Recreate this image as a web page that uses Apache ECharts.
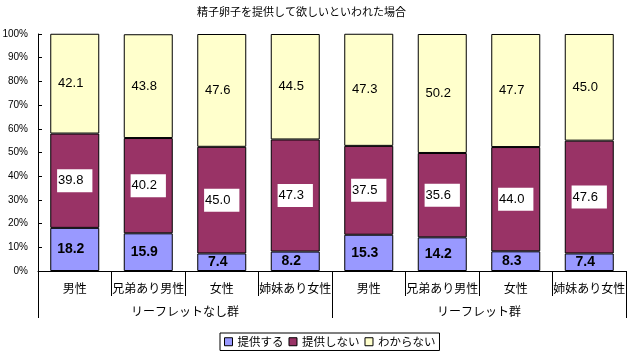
<!DOCTYPE html>
<html>
<head>
<meta charset="utf-8">
<script src="https://cdn.jsdelivr.net/npm/echarts@6/dist/echarts.min.js"></script>
<style>html,body{margin:0;padding:0;background:#fff}#c{width:629px;height:354px}</style>
</head>
<body>
<div id="c"></div>
<script>
const titleText = '精子卵子を提供して欲しいといわれた場合';
const categories = ['男性', '兄弟あり男性', '女性', '姉妹あり女性', '男性', '兄弟あり男性', '女性', '姉妹あり女性'];
const groups = ['リーフレットなし群', 'リーフレット群'];
const seriesNames = ['提供する', '提供しない', 'わからない'];
const provide = [18.2, 15.9, 7.4, 8.2, 15.3, 14.2, 8.3, 7.4];
const notProvide = [39.8, 40.2, 45.0, 47.3, 37.5, 35.6, 44.0, 47.6];
const unknown = [42.1, 43.8, 47.6, 44.5, 47.3, 50.2, 47.7, 45.0];
const yTicks = [0, 10, 20, 30, 40, 50, 60, 70, 80, 90, 100];

const JP = "'Noto Sans CJK JP', sans-serif";
const NUM = "'Liberation Sans', Arial, sans-serif";
const fmt = p => p.value.toFixed(1);

const chart = echarts.init(document.getElementById('c'));
chart.setOption({
  animation: false,
  title: {
    text: titleText, left: 192, top: 1,
    textStyle: {fontSize: 11, fontWeight: 'normal', color: '#000', fontFamily: JP}
  },
  legend: {
    data: seriesNames, left: 220, top: 333,
    orient: 'horizontal', icon: 'rect',
    itemWidth: 8, itemHeight: 8, itemGap: 5, itemTextGap: 3,
    padding: [3, 4, 3, 4], borderColor: '#000', borderWidth: 1,
    itemStyle: {borderColor: '#000', borderWidth: 1},
    textStyle: {fontSize: 11.5, color: '#000', fontFamily: JP}
  },
  grid: {left: 38, right: 3, top: 34, bottom: 83, containLabel: false, outerBoundsMode: 'none'},
  xAxis: [
    {
      type: 'category', data: categories, position: 'bottom', offset: 0,
      axisLine: {show: true, lineStyle: {color: '#000', width: 1}},
      axisTick: {show: true, length: 25, interval: 0, lineStyle: {color: '#000'}},
      axisLabel: {interval: 0, margin: 11, fontSize: 12, color: '#000', fontFamily: JP},
      splitLine: {show: false}
    },
    {
      type: 'category', data: groups, position: 'bottom', offset: 0,
      axisLine: {show: false},
      axisTick: {show: true, length: 47, interval: 0, lineStyle: {color: '#000'}},
      axisLabel: {interval: 0, margin: 34, fontSize: 12, color: '#000', fontFamily: JP},
      splitLine: {show: false}
    }
  ],
  yAxis: {
    type: 'value', min: yTicks[0], max: yTicks[yTicks.length - 1], interval: 10,
    axisLine: {show: true, lineStyle: {color: '#000'}},
    axisTick: {show: true, inside: true, length: 4, lineStyle: {color: '#000'}},
    axisLabel: {formatter: '{value}%', fontSize: 10, color: '#000', margin: 10, fontFamily: NUM},
    splitLine: {show: false}
  },
  series: [
    {
      name: seriesNames[0], type: 'bar', stack: 'a', data: provide, barWidth: 49,
      itemStyle: {color: '#9999FF', borderColor: '#000', borderWidth: 1},
      label: {show: true, position: 'inside', formatter: fmt, fontSize: 14, fontWeight: 'bold',
        color: '#000', fontFamily: NUM, offset: [-4, 0]}
    },
    {
      name: seriesNames[1], type: 'bar', stack: 'a', data: notProvide, barWidth: 49,
      itemStyle: {color: '#993366', borderColor: '#000', borderWidth: 1},
      label: {show: true, position: 'inside', formatter: fmt, fontSize: 13,
        color: '#000', fontFamily: NUM, backgroundColor: '#fff', padding: [5, 9, 5, 1]}
    },
    {
      name: seriesNames[2], type: 'bar', stack: 'a', data: unknown, barWidth: 49,
      itemStyle: {color: '#FFFFCC', borderColor: '#000', borderWidth: 1},
      label: {show: true, position: 'inside', formatter: fmt, fontSize: 13,
        color: '#000', fontFamily: NUM, offset: [-4, 0]}
    }
  ]
});
</script>
</body>
</html>
